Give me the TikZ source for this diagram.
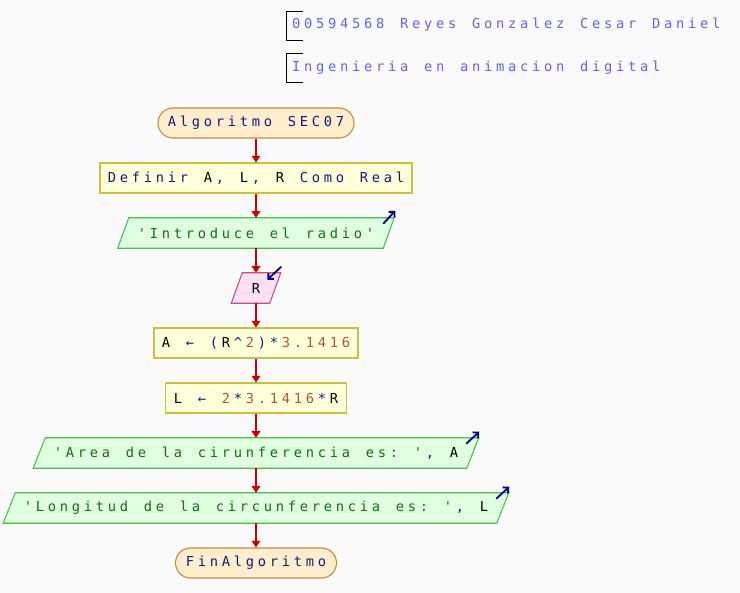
\documentclass[tikz,border=0pt]{standalone}
\usepackage{fontspec}
\setmonofont{DejaVu Sans Mono}
\usetikzlibrary{arrows.meta,backgrounds,calc}
\definecolor{bgc}{RGB}{250,250,250}
\definecolor{termf}{RGB}{255,238,206}
\definecolor{termb}{RGB}{200,138,58}
\definecolor{procf}{RGB}{255,255,218}
\definecolor{procb}{RGB}{200,192,64}
\definecolor{iof}{RGB}{224,255,224}
\definecolor{iob}{RGB}{80,184,80}
\definecolor{inf}{RGB}{255,224,240}
\definecolor{inb}{RGB}{192,80,138}
\definecolor{kwc}{RGB}{24,24,120}
\definecolor{strc}{RGB}{20,110,20}
\definecolor{numc}{RGB}{170,90,50}
\definecolor{hdrc}{RGB}{100,100,240}
\definecolor{flowc}{RGB}{204,0,0}
\definecolor{iconc}{RGB}{0,0,128}
\ExplSyntaxOn
\NewDocumentCommand{\cells}{m}{\str_map_inline:nn {#1}{\makebox[9pt][c]{##1}}}
\ExplSyntaxOff
\newcommand{\kw}[1]{\textcolor{kwc}{\cells{#1}}}
\newcommand{\str}[1]{\textcolor{strc}{\cells{#1}}}
\newcommand{\nm}[1]{\textcolor{numc}{\cells{#1}}}
\begin{document}
\begin{tikzpicture}[x=0.75pt,y=-0.75pt,
  txt/.style={font=\ttfamily\fontsize{10.3pt}{12pt}\selectfont, inner sep=0pt, minimum height=22.5pt, text=black},
  termbox/.style={txt, draw=termb, fill=termf, rounded corners=11.25pt, line width=0.8pt},
  procbox/.style={txt, draw=procb, fill=procf, line width=0.8pt},
  ionode/.style={txt},
  iodraw/.style={draw=iob, fill=iof, line width=0.8pt},
  indraw/.style={draw=inb, fill=inf, line width=0.8pt},
  flow/.style={draw=flowc, line width=1.5pt, -{Triangle[width=6.5pt,length=5pt]}},
  icon/.style={draw=iconc, line width=1.4pt, -{Straight Barb[length=3pt,width=6pt]}},
  hdr/.style={font=\ttfamily\fontsize{10.3pt}{12pt}\selectfont, text=hdrc, inner sep=0pt, anchor=west},
  brk/.style={draw=black, line width=0.75pt}]
\useasboundingbox (0,0) rectangle (740,593);
% header
\node[hdr] (h1) at (290,25) {\cells{00594568 Reyes Gonzalez Cesar Daniel}};
\node[hdr] (h2) at (290,68) {\cells{Ingenieria en animacion digital}};
\draw[brk] (303,11.5) -| (286,40) -- (303,40);
\draw[brk] (303,53.5) -| (286,82) -- (303,82);
% nodes
\node[termbox, minimum width=147pt] (s) at (256,123) {\kw{Algoritmo SEC07}};
\node[procbox, minimum width=234pt] (d) at (256,178) {\kw{Definir }\cells{A}\kw{, }\cells{L}\kw{, }\cells{R}\kw{ Como Real}};
\node[ionode, minimum width=198.75pt] (i) at (256,233) {\str{'Introduce el radio'}};
\node[ionode, minimum width=28.5pt] (r) at (256,288) {\cells{R}};
\node[procbox, minimum width=153pt] (a) at (256,343) {\cells{A}\kw{ ← (}\cells{R}\kw{^}\nm{2}\kw{)*}\nm{3.1416}};
\node[procbox, minimum width=135.75pt] (l) at (256,398) {\cells{L}\kw{ ← }\nm{2}\kw{*}\nm{3.1416}\kw{*}\cells{R}};
\node[ionode, minimum width=324.75pt] (o1) at (256,453) {\str{'Area de la cirunferencia es: '}\kw{, }\cells{A}};
\node[ionode, minimum width=369.75pt] (o2) at (256,508) {\str{'Longitud de la circunferencia es: '}\kw{, }\cells{L}};
\node[termbox, minimum width=120.75pt] (e) at (256,563) {\kw{FinAlgoritmo}};
\begin{scope}[on background layer]
\fill[bgc] (0,0) rectangle (740,593);
\foreach \n/\sl in {i/5.5,o1/6,o2/6}
  \draw[iodraw] ([xshift=-\sl*0.75pt]\n.south west) -- ([xshift=-\sl*0.75pt]\n.south east)
     -- ([xshift=\sl*0.75pt]\n.north east) -- ([xshift=\sl*0.75pt]\n.north west) -- cycle;
\draw[indraw] ([xshift=-5.5*0.75pt]r.south west) -- ([xshift=-5.5*0.75pt]r.south east)
     -- ([xshift=5.5*0.75pt]r.north east) -- ([xshift=5.5*0.75pt]r.north west) -- cycle;
\end{scope}
% flow connectors
\draw[flow] (s.south) -- (d.north);
\draw[flow] (d.south) -- (i.north);
\draw[flow] (i.south) -- (r.north);
\draw[flow] (r.south) -- (a.north);
\draw[flow] (a.south) -- (l.north);
\draw[flow] (l.south) -- (o1.north);
\draw[flow] (o1.south) -- (o2.north);
\draw[flow] (o2.south) -- (e.north);
% io icons
\draw[icon] ([shift={(-5.5,6)}]i.north east) -- ([shift={(6.5,-7)}]i.north east);
\draw[icon] ([shift={(-6.5,6)}]o1.north east) -- ([shift={(6.5,-6)}]o1.north east);
\draw[icon] ([shift={(-6.5,6)}]o2.north east) -- ([shift={(6.5,-6)}]o2.north east);
\draw[icon] ([shift={(6,-6)}]r.north east) -- ([shift={(-8,7)}]r.north east);
\end{tikzpicture}
\end{document}
